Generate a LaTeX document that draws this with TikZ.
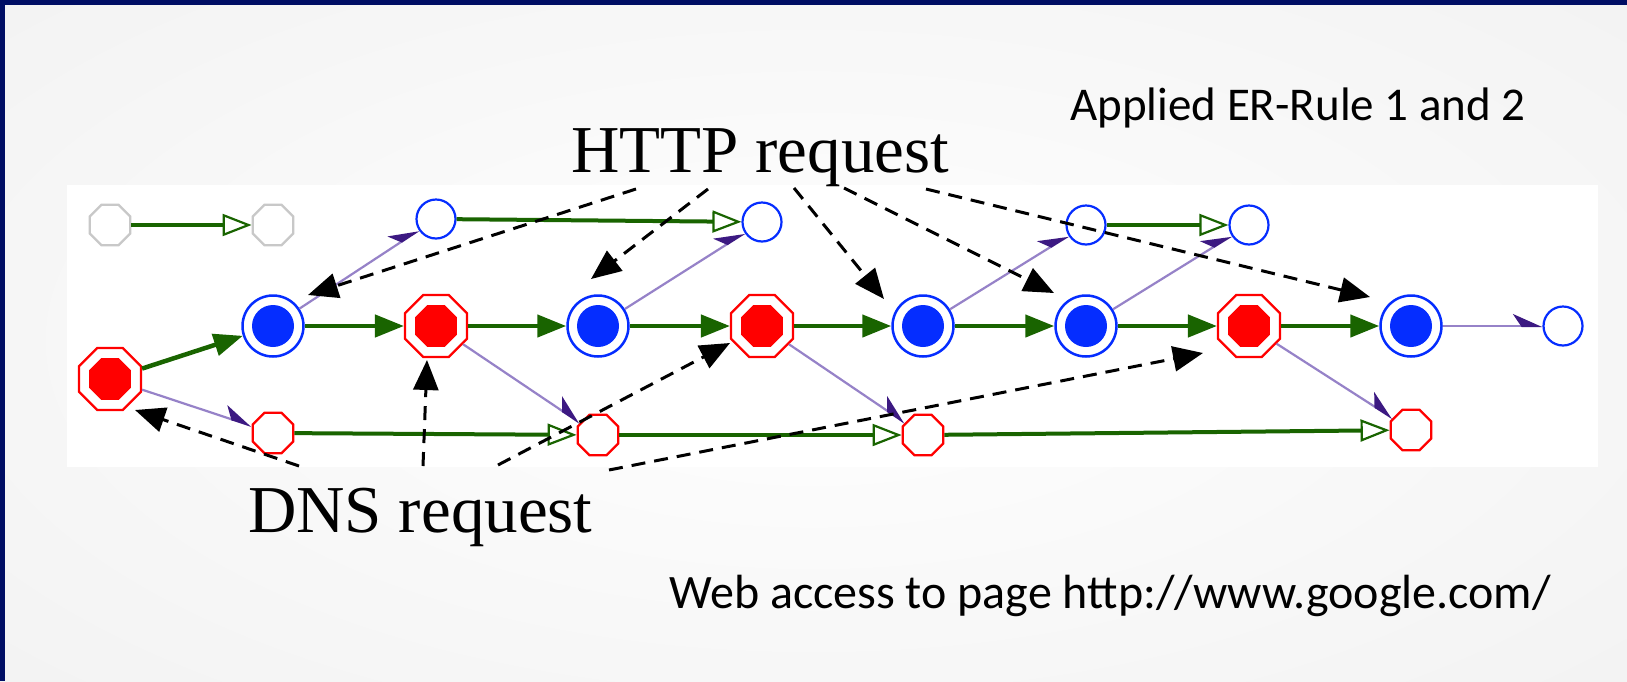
\documentclass[tikz,border=0pt]{standalone}
\usepackage{fontspec}
\setmainfont{Liberation Serif}
\newfontfamily\calib{Carlito}
\usetikzlibrary{arrows.meta,shapes.geometric}
\definecolor{navy}{RGB}{0,14,100}
\definecolor{nblue}{RGB}{5,45,255}
\definecolor{nred}{RGB}{255,0,0}
\definecolor{ngreen}{RGB}{25,100,0}
\definecolor{lpurple}{RGB}{150,130,200}
\definecolor{dpurple}{RGB}{60,25,130}
\definecolor{ngray}{RGB}{200,200,200}
\begin{document}
\begin{tikzpicture}[x=1pt,y=-1pt,
  bigblue/.style={circle, draw=nblue, line width=2.5pt, fill=white, minimum size=61pt, inner sep=0pt,
    path picture={\fill[nblue] (path picture bounding box.center) circle[radius=21pt];}},
  bigred/.style={regular polygon, regular polygon sides=8, draw=nred, line width=2.2pt, fill=white,
    minimum size=67pt, inner sep=0pt,
    path picture={\fill[nred] ([shift={(22.5:22.7pt)}]path picture bounding box.center)
      \foreach \a in {67.5,112.5,...,337.5}{ -- ([shift={(\a:22.7pt)}]path picture bounding box.center)} -- cycle;}},
  smallred/.style={regular polygon, regular polygon sides=8, draw=nred, line width=2.2pt, fill=white,
    minimum size=44pt, inner sep=0pt},
  grayoct/.style={regular polygon, regular polygon sides=8, draw=ngray, line width=2.2pt, fill=white,
    minimum size=44pt, inner sep=0pt},
  smallblue/.style={circle, draw=nblue, line width=2.2pt, fill=white, minimum size=39pt, inner sep=0pt},
  gedge/.style={draw=ngreen, line width=4.5pt, -{Triangle[length=29pt,width=22pt]}},
  oedge/.style={draw=ngreen, line width=4pt, -{Triangle[open,length=29pt,width=22pt,line width=2.2pt]}},
  pedge/.style={draw=lpurple, line width=2.2pt, -{Stealth[harpoon,length=27pt,width=24pt,inset=8pt,color=dpurple]}},
  dedge/.style={draw=black, line width=3pt, dash pattern=on 14pt off 9pt, -{Triangle[length=30pt,width=25pt]}},
  bigtext/.style={anchor=base west, inner sep=0pt, font=\fontsize{67}{80}\selectfont},
  sanstext/.style={anchor=base west, inner sep=0pt, font=\calib\fontsize{47}{56}\selectfont}
]
\useasboundingbox (0,0) rectangle (1627,681);
% background
\begin{scope}
  \clip (0,0) rectangle (1627,681);
  \shade[inner color=white, outer color=black!7] (-800,-400) rectangle (2427,1081);
\end{scope}
\fill[navy] (0,0) rectangle (1627,5);
\fill[navy] (0,0) rectangle (5,681);
\fill[white] (67,185) rectangle (1598,467);

% nodes
\node[grayoct] (g1) at (110,225) {};
\node[grayoct] (g2) at (273,225) {};
\node[smallblue] (t1) at (436,219) {};
\node[smallblue] (t2) at (762,222) {};
\node[smallblue] (t3) at (1086,225) {};
\node[smallblue] (t4) at (1249,225) {};
\node[bigred] (r0) at (110,379) {};
\node[bigblue] (b1) at (273,326) {};
\node[bigred] (r1) at (436,326) {};
\node[bigblue] (b2) at (598,326) {};
\node[bigred] (r2) at (762,326) {};
\node[bigblue] (b3) at (923,326) {};
\node[bigblue] (b4) at (1086,326) {};
\node[bigred] (r3) at (1249,326) {};
\node[bigblue] (b5) at (1411,326) {};
\node[smallblue] (e) at (1563,326) {};
\node[smallred] (s1) at (273,433) {};
\node[smallred] (s2) at (598,435) {};
\node[smallred] (s3) at (923,435) {};
\node[smallred] (s4) at (1411,430) {};

% green filled edges
\draw[gedge] (r0) -- (b1);
\draw[gedge] (b1) -- (r1);
\draw[gedge] (r1) -- (b2);
\draw[gedge] (b2) -- (r2);
\draw[gedge] (r2) -- (b3);
\draw[gedge] (b3) -- (b4);
\draw[gedge] (b4) -- (r3);
\draw[gedge] (r3) -- (b5);
% green open edges
\draw[oedge] (g1) -- (g2);
\draw[oedge] (t1) -- (t2);
\draw[oedge] (t3) -- (t4);
\draw[oedge] (s1) -- (s2);
\draw[oedge] (s2) -- (s3);
\draw[oedge] (s3) -- (s4);
% purple edges
\draw[pedge] (b1) -- (t1);
\draw[pedge] (b2) -- (t2);
\draw[pedge] (b3) -- (t3);
\draw[pedge] (b4) -- (t4);
\draw[pedge] (b5) -- (e);
\draw[pedge] (r0) -- (s1);
\draw[pedge] (r1) -- (s2);
\draw[pedge] (r2) -- (s3);
\draw[pedge] (r3) -- (s4);

% labels
\node[bigtext] (http) at (571,172) {HTTP request};
\node[bigtext] (dns) at (248,532) {DNS request};
\node[sanstext] (rule) at (1070,120) {Applied ER-Rule 1 and 2};
\node[sanstext, font=\calib\fontsize{48}{56}\selectfont] (web) at (669,608) {Web access to page http://www.google.com/};

% dashed annotation arrows
\coordinate (hs1) at (636,189); \coordinate (ht1) at (308,295);
\coordinate (hs2) at (708,189); \coordinate (ht2) at (591,279);
\coordinate (hs3) at (794,188); \coordinate (ht3) at (884,299);
\coordinate (hs4) at (844,188); \coordinate (ht4) at (1054,293);
\coordinate (hs5) at (926,189); \coordinate (ht5) at (1370,297);
\coordinate (ds1) at (299,466); \coordinate (dt1) at (135,410);
\coordinate (ds2) at (423,466); \coordinate (dt2) at (427,360);
\coordinate (ds3) at (498,465); \coordinate (dt3) at (730,343);
\coordinate (ds4) at (609,470); \coordinate (dt4) at (1203,353);
\draw[dedge] (hs1) -- (ht1);
\draw[dedge] (hs2) -- (ht2);
\draw[dedge] (hs3) -- (ht3);
\draw[dedge] (hs4) -- (ht4);
\draw[dedge] (hs5) -- (ht5);
\draw[dedge] (ds1) -- (dt1);
\draw[dedge] (ds2) -- (dt2);
\draw[dedge] (ds3) -- (dt3);
\draw[dedge] (ds4) -- (dt4);
\end{tikzpicture}
\end{document}
